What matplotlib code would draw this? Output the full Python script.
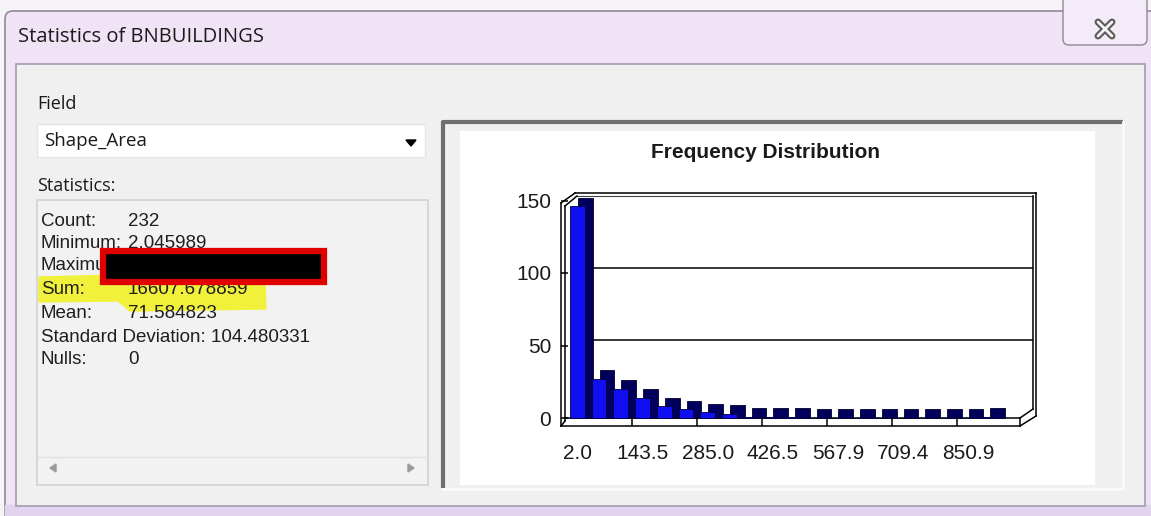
import numpy as np
import matplotlib
matplotlib.use("Agg")
import matplotlib.pyplot as plt
from matplotlib.patches import Rectangle, FancyBboxPatch, Polygon

# frequency distribution of Shape_Area (20 classes)
counts = [146, 27, 20, 14, 8, 6, 4, 3, 1, 1, 1, 0, 0, 0, 0, 0, 0, 0, 0, 1]
class_labels = ["2.0", "143.5", "285.0", "426.5", "567.9", "709.4", "850.9"]
y_ticks = [0, 50, 100, 150]

# statistics listing
stat_names = ["Count:", "Minimum:", "Maximum:", "Sum:", "Mean:",
              "Standard Deviation: 104.480331", "Nulls:"]
stat_values = ["232", "2.045989", "", "16607.678859", "71.584823", "", "0"]

W, H = 1151, 516
fig = plt.figure(figsize=(W / 100, H / 100), dpi=100)

# background axes in pixel coordinates for the dialog
bg = fig.add_axes([0, 0, 1, 1])
bg.set_xlim(0, W)
bg.set_ylim(H, 0)
bg.axis("off")

ui = "Open Sans"
arial = "Liberation Sans"

#window frame
bg.add_patch(Rectangle((0, 0), W, H, color="#f6f4f7"))
bg.add_patch(FancyBboxPatch((5, 11), W + 20, H, boxstyle="round,pad=0,rounding_size=8",
                            fc="#efe3f5", ec="#8f8a98", lw=1.2))
bg.add_patch(Rectangle((5, 505), W, 12, color="#e2d3ee"))
bg.text(18, 37, "Statistics of BNBUILDINGS", family=ui, fontsize=14.5,
        va="center", ha="left", color="#1a1a1a")

# close button
bg.add_patch(FancyBboxPatch((1063, -10), 84, 55, boxstyle="round,pad=0,rounding_size=6",
                            fc="#f4ebf8", ec="#8e8796", lw=1))
bg.plot([1098, 1112], [22, 36], color="#5a5a5a", lw=5, solid_capstyle="round")
bg.plot([1098, 1112], [36, 22], color="#5a5a5a", lw=5, solid_capstyle="round")
bg.plot([1098, 1112], [22, 36], color="#f4f4f4", lw=2, solid_capstyle="round")
bg.plot([1098, 1112], [36, 22], color="#f4f4f4", lw=2, solid_capstyle="round")

# client area
bg.add_patch(Rectangle((16, 64), 1129, 442, fc="#f0f0f0", ec="#a39cad", lw=1.2))

# field selector
bg.text(37, 104, "Field", family=ui, fontsize=13, va="center", color="#1a1a1a")
bg.add_patch(Rectangle((37, 124), 388, 33, fc="white", ec="#e4e4e4", lw=1))
bg.text(44, 141, "Shape_Area", family=ui, fontsize=13.5, va="center", color="#1a1a1a")
bg.add_patch(Polygon([(406, 140), (416, 140), (411, 146)], closed=True, color="black"))
bg.text(37, 186, "Statistics:", family=ui, fontsize=13, va="center", color="#1a1a1a")

# statistics box
bg.add_patch(Rectangle((37, 200), 391, 285, fc="#f2f2f2", ec="#d2d2d2", lw=1.2))
bg.plot([38, 427], [457, 457], color="#e2e2e2", lw=1)
bg.add_patch(Polygon([(50, 468), (56, 464), (56, 472)], closed=True, color="#9a9a9a"))
bg.add_patch(Polygon([(414, 468), (408, 464), (408, 472)], closed=True, color="#9a9a9a"))

# highlighter stroke over the Sum line
bg.add_patch(Polygon([(39, 277), (120, 275), (128, 280), (265, 281), (266, 309),
                      (130, 311), (118, 301), (39, 302)], closed=True,
                     color="#f1f13c", zorder=2))

line_y = [221, 243, 266, 290, 313, 337, 360]
for name, val, yy in zip(stat_names, stat_values, line_y):
    bg.text(41, yy, name, family=arial, fontsize=13.5, va="center", color="#1e1e1e", zorder=3)
    if val:
        bg.text(128, yy, val, family=arial, fontsize=13.5, va="center", color="#1e1e1e", zorder=3)

# redaction box
bg.add_patch(Rectangle((103, 251), 221, 31, fc="black", ec="#e00000", lw=4.5, zorder=4))

# chart panel
bg.add_patch(Rectangle((443, 122), 680, 366, fc="#f0f0f0", ec="none"))
bg.add_patch(Rectangle((460, 131), 635, 354, fc="white", ec="none"))
bg.plot([443, 443, 1123], [488, 122, 122], color="#6f6f6f", lw=3, solid_capstyle="butt")
bg.plot([443, 1123, 1123], [489, 489, 122], color="#fbfbfb", lw=2)

bg.text(766, 153, "Frequency Distribution", family=arial, fontsize=15,
        fontweight="bold", ha="center", va="center", color="#1a1a1a")

# 3d frame of the chart (walls and floor)
fk = dict(color="black", lw=1.1)
bg.plot([575, 1036], [193, 193], **fk)
bg.plot([577, 1033], [196, 196], color="#444444", lw=0.8)
bg.plot([561, 575], [203, 193], **fk)
bg.plot([565, 577], [206, 196], **fk)
bg.plot([561, 561], [203, 426], **fk)
bg.plot([565, 565], [206, 421], **fk)
bg.plot([1033, 1033], [196, 409], **fk)
bg.plot([1036, 1036], [193, 416], **fk)
bg.plot([565, 1020], [418, 418], **fk)
bg.plot([561, 1020], [426, 426], **fk)
bg.plot([1020, 1020], [418, 426], **fk)
bg.plot([1020, 1033], [418, 409], **fk)
bg.plot([1020, 1036], [426, 416], **fk)
bg.plot([561, 565], [426, 421], **fk)

# chart axes: x in class units, y in counts
px_bin = 21.7
x_left, x_right = 561, 1033
y_top, y_bot = 193, 426
zero_px, px_unit = 418, 1.45
ax = fig.add_axes([x_left / W, (H - y_bot) / H, (x_right - x_left) / W, (y_bot - y_top) / H])
ax.set_xlim((x_left - 570) / px_bin, (x_right - 570) / px_bin)
ax.set_ylim((zero_px - y_bot) / px_unit, (zero_px - y_top) / px_unit)
ax.patch.set_visible(False)
for s in ax.spines.values():
    s.set_visible(False)

for g in [50, 100]:
    ax.axhline(g + 3.7, xmin=0.03, xmax=1.0, color="black", lw=1.1, zorder=1)

depth = 6.0
x = np.arange(len(counts))
ax.bar(x + 0.37, np.array(counts) + depth, width=0.68, align="edge",
       color="#00005c", edgecolor="#000028", lw=0.6, zorder=2)
ax.bar(x, counts, width=0.68, align="edge", color="#0f0ff2",
       edgecolor="#000040", lw=0.6, zorder=3)

# class ticks on the floor edge
tick_pos = np.arange(3, 19, 3) - 0.15
ax.vlines(tick_pos, ax.get_ylim()[0], 0.5, color="black", lw=1.1, zorder=4)

ax.set_yticks(y_ticks)
ax.set_yticklabels([str(v) for v in y_ticks], family=arial, fontsize=15, color="#1a1a1a")
ax.tick_params(axis="y", direction="in", length=5, width=1.1, pad=7)
ax.set_xticks(np.arange(0, 19, 3) + 0.35)
ax.set_xticklabels(class_labels, family=arial, fontsize=15, color="#1a1a1a")
ax.tick_params(axis="x", length=0, pad=13)

fig.savefig("out.png", dpi=100)
